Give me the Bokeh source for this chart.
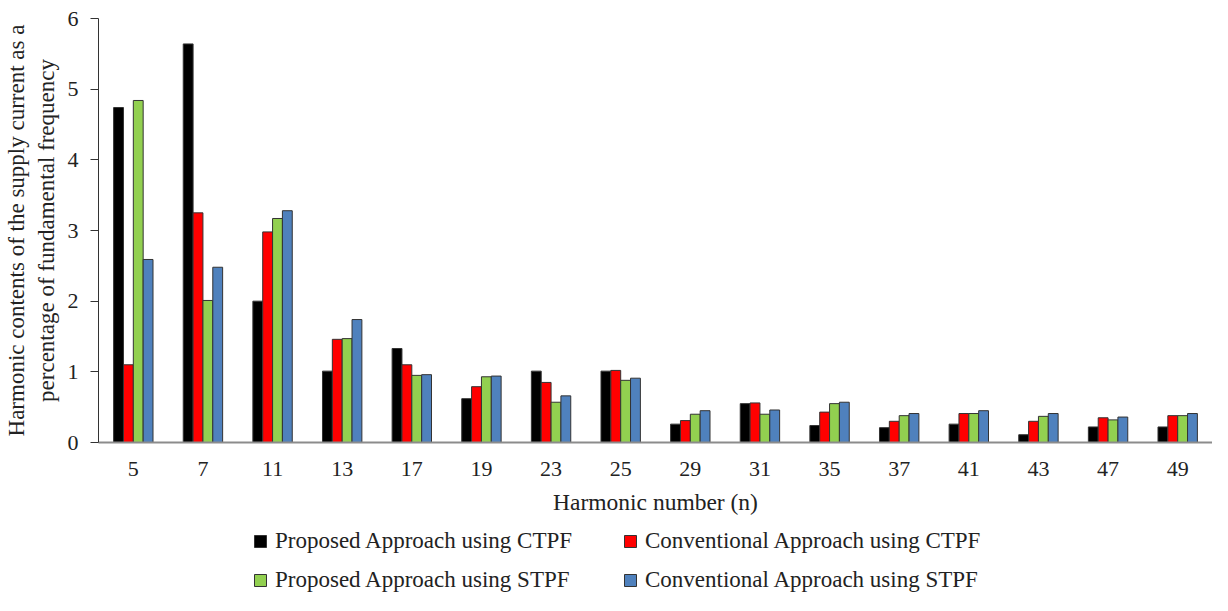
from bokeh.plotting import figure
from bokeh.models import FactorRange, Range1d, Legend, LegendItem, FixedTicker, ColumnDataSource
from bokeh.layouts import column
from bokeh.transform import dodge
from bokeh.embed import file_html
from bokeh.resources import INLINE

harmonics = ["5", "7", "11", "13", "17", "19", "23", "25", "29", "31", "35", "37", "41", "43", "47", "49"]
proposed_ctpf = [4.74, 5.64, 2.00, 1.01, 1.33, 0.62, 1.01, 1.01, 0.26, 0.55, 0.24, 0.21, 0.26, 0.11, 0.22, 0.22]
conventional_ctpf = [1.10, 3.25, 2.98, 1.46, 1.10, 0.79, 0.85, 1.02, 0.31, 0.56, 0.43, 0.30, 0.41, 0.30, 0.35, 0.38]
proposed_stpf = [4.84, 2.01, 3.17, 1.47, 0.95, 0.93, 0.57, 0.88, 0.40, 0.40, 0.55, 0.38, 0.41, 0.37, 0.32, 0.38]
conventional_stpf = [2.59, 2.48, 3.28, 1.74, 0.96, 0.94, 0.66, 0.91, 0.45, 0.46, 0.57, 0.41, 0.45, 0.41, 0.36, 0.41]
series_names = ["Proposed Approach using CTPF", "Conventional Approach using CTPF",
                "Proposed Approach using STPF", "Conventional Approach using STPF"]
colors = ["#000000", "#FF0000", "#92D050", "#4F81BD"]

src = ColumnDataSource(dict(h=harmonics, a=proposed_ctpf, b=conventional_ctpf, c=proposed_stpf, d=conventional_stpf))

FONT = "Liberation Serif"
TXT = "#222222"
p = figure(x_range=FactorRange(*harmonics, range_padding=0), y_range=Range1d(0, 6),
           width=1212, height=523, output_backend="svg", toolbar_location=None,
           min_border_left=96, min_border_top=18, min_border_right=0, min_border_bottom=81)
p.outline_line_color = None
p.grid.grid_line_color = None

w = 0.1414
offs = [-0.2121, -0.0707, 0.0707, 0.2121]
cols = ["a", "b", "c", "d"]
for col, off, c in zip(cols, offs, colors):
    p.vbar(x=dodge("h", off, range=p.x_range), top=col, width=w, source=src,
           fill_color=c, line_color="#333333", line_width=1)

p.yaxis.ticker = FixedTicker(ticks=[0, 1, 2, 3, 4, 5, 6])
p.yaxis.minor_tick_line_color = None
p.yaxis.major_tick_in = 0
p.yaxis.major_tick_out = 8
p.yaxis.axis_line_color = "#333333"
p.yaxis.major_tick_line_color = "#333333"
p.yaxis.major_label_text_font = FONT
p.yaxis.major_label_text_font_size = "22px"
p.yaxis.major_label_text_color = TXT
p.yaxis.major_label_standoff = 12
p.yaxis.axis_label = "Harmonic contents of the supply current as a\npercentage of fundamental frequency"
p.yaxis.axis_label_text_font = FONT
p.yaxis.axis_label_text_font_style = "normal"
p.yaxis.axis_label_text_font_size = "23px"
p.yaxis.axis_label_text_color = TXT
p.yaxis.axis_label_standoff = 6

p.xaxis.major_tick_line_color = None
p.xaxis.major_tick_out = 0
p.xaxis.major_tick_in = 0
p.xaxis.minor_tick_line_color = None
p.xaxis.axis_line_color = "#8c8c8c"
p.xaxis.axis_line_width = 2
p.xaxis.major_label_text_font = FONT
p.xaxis.major_label_text_font_size = "22px"
p.xaxis.major_label_text_color = TXT
p.xaxis.major_label_standoff = 19
p.xaxis.axis_label = "Harmonic number (n)"
p.xaxis.axis_label_text_font = FONT
p.xaxis.axis_label_text_font_style = "normal"
p.xaxis.axis_label_text_font_size = "23.5px"
p.xaxis.axis_label_text_color = TXT
p.xaxis.axis_label_standoff = 10

# legend strip below the chart (its markers lie outside its visible y range)
lg = figure(width=1212, height=72, x_range=p.x_range, y_range=Range1d(10, 11),
            output_backend="svg", toolbar_location=None,
            x_axis_location=None, y_axis_location=None,
            min_border_left=0, min_border_right=0, min_border_top=0, min_border_bottom=0)
lg.outline_line_color = None
lg.grid.grid_line_color = None
items = []
for name, col, off, c in zip(series_names, cols, offs, colors):
    r = lg.scatter(x=dodge("h", off, range=p.x_range), y=col, source=src, marker="square",
                   size=12, fill_color=c, line_color="#333333", line_width=1)
    items.append(LegendItem(label=name, renderers=[r]))
legend = Legend(items=items, ncols=2, location=(147, 0), orientation="horizontal")
legend.label_text_font = FONT
legend.label_text_font_size = "23px"
legend.label_text_color = TXT
legend.glyph_width = 30
legend.glyph_height = 30
legend.label_standoff = 0
legend.label_width = 331
legend.label_height = 20
legend.spacing = 9
legend.padding = 0
legend.margin = 0
legend.border_line_color = None
legend.background_fill_alpha = 0
lg.add_layout(legend)

layout = column(p, lg, spacing=0)
open("out.html", "w").write(file_html(layout, INLINE))
